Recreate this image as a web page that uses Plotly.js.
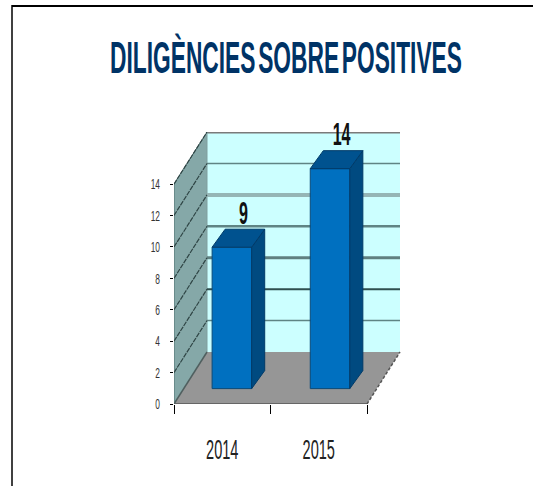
<!DOCTYPE html>
<html><head><meta charset="utf-8">
<script src="https://cdn.plot.ly/plotly-3.0.1.min.js"></script>
<style>html,body{margin:0;padding:0;background:#fff}#c{width:533px;height:486px}
.gtitle{word-spacing:-7px}</style>
</head><body><div id="c"></div>
<script>
const years = ['2014','2015'];
const values = [9,14];
const yTicks = [0,2,4,6,8,10,12,14];
const xCentres = [0.5,1.5];
const xEdges = [0,1,2];
const gridWidths = {2:1.5,4:2,6:3,8:2.5,10:4,12:1.5};
const gridColors = {2:'#5f8484',4:'#2f4f4f',6:'#5f8080',8:'#5f8484',10:'#95b5b5',12:'#5f8484'};

const wallDx = 0.342, wallDy = 3.31;     // depth of the chart box in axis units
const barDx = 0.135, barDy = 1.146;      // depth of a bar
const barShift = [0.1,0.117], barBase = 0.98, barW = 0.41;
const xMax = 2, yMax = 14;

const poly = (pts, fill, line) => ({
  type:'path', xref:'x', yref:'y', layer:'below', fillcolor:fill,
  line:{width:line?1:0,color:line||fill},
  path:'M'+pts.map(p=>p[0]+','+p[1]).join('L')+'Z'
});
const seg = (a,b,color,width,dash) => ({
  type:'line', xref:'x', yref:'y', layer:'below',
  x0:a[0],y0:a[1],x1:b[0],y1:b[1], line:{color,width,dash:dash||'solid'}
});

const shapes = [
  poly([[0,yMax],[wallDx,yMax+wallDy],[wallDx,wallDy],[0,0]],'#85a8a8'),
  poly([[wallDx,wallDy],[wallDx,yMax+wallDy],[xMax+wallDx,yMax+wallDy],[xMax+wallDx,wallDy]],'#ccffff'),
  poly([[0,0],[wallDx,wallDy],[xMax+wallDx,wallDy],[xMax,0]],'#969696'),
  seg([wallDx,yMax+wallDy],[xMax+wallDx,yMax+wallDy],'#7a7a7a',3),
  seg([0,0],[xMax,0],'#666666',2),
  seg([xMax,0],[xMax+wallDx,wallDy],'#555555',1.5,'3px,2px'),
  seg([wallDx,wallDy],[wallDx,yMax+wallDy],'#7f9f9f',1),
  seg([0,0],[0,yMax],'#4f6f6f',1),
  seg([0,0],[wallDx,wallDy],'#4f5f5f',1.5),
  seg([0,yMax],[wallDx,yMax+wallDy],'#5f7f7f',1),
  {type:'line',xref:'paper',yref:'paper',x0:-162/227,x1:359/227,y0:1+126/272,y1:1+126/272,line:{color:'#000',width:2}},
  {type:'line',xref:'paper',yref:'paper',x0:-162/227,x1:-162/227,y0:-82/272,y1:1+127/272,line:{color:'#000',width:1.5}}
];
yTicks.filter(v=>v>0&&v<14).forEach(v=>{
  shapes.push(seg([wallDx,v+wallDy],[xMax+wallDx,v+wallDy],gridColors[v],gridWidths[v]));
});
yTicks.filter(v=>v>0).forEach(v=>{
  shapes.push(seg([0,v],[wallDx,v+wallDy],'#2f4545',1.2,'5px,1px'));
});

const barX = xCentres.map((c,i)=>c+barShift[i]);
const traces = [{
  type:'bar', x:barX, y:values, base:values.map(()=>barBase), width:barW,
  marker:{color:'#0070c0',line:{color:'#0a4a78',width:1}}, showlegend:false, hoverinfo:'skip'
}];
values.forEach((v,i)=>{
  const l = barX[i]-barW/2, r = barX[i]+barW/2, top = barBase+v;
  traces.push({type:'scatter',mode:'lines',fill:'toself',fillcolor:'#004a80',
    line:{color:'#003a68',width:1},showlegend:false,hoverinfo:'skip',
    x:[r,r+barDx,r+barDx,r,r],y:[barBase,barBase+barDy,top+barDy,top,barBase]});
  traces.push({type:'scatter',mode:'lines',fill:'toself',fillcolor:'#00528f',
    line:{color:'#003a68',width:1},showlegend:false,hoverinfo:'skip',
    x:[l,l+barDx,r+barDx,r,l],y:[top,top+barDy,top+barDy,top,top]});
});
traces.push({type:'scatter',mode:'text',showlegend:false,hoverinfo:'skip',cliponaxis:false,
  x:barX.map(x=>x+0.12), y:values.map(v=>v+2.95),
  text:values.map(v=>'<b>'+v+'</b>'), textposition:'middle center',
  textfont:{family:'"Liberation Sans",sans-serif',size:31,color:'#111'}});

const font = '"Liberation Sans",sans-serif';
const layout = {
  width:533,height:486,paper_bgcolor:'#fff',plot_bgcolor:'rgba(0,0,0,0)',
  margin:{l:174,r:132,t:132,b:82},showlegend:false,
  title:{text:'<b>DILIGÈNCIES SOBRE POSITIVES</b>',xref:'paper',yref:'container',
    x:(286-174)/227,xanchor:'center',y:1-58/486,yanchor:'middle',
    font:{family:font,size:44,color:'#003366'}},
  xaxis:{range:[0,227/96.5],showgrid:false,zeroline:false,showline:false,
    tickmode:'array',tickvals:xCentres,ticktext:years,ticks:'outside',ticklen:20,tickcolor:'rgba(0,0,0,0)',
    tickfont:{family:font,size:28,color:'#222'},
    minor:{tickmode:'array',tickvals:xEdges,ticks:'outside',ticklen:9,tickcolor:'#000',tickwidth:1}},
  yaxis:{range:[0,272/15.71],showgrid:false,zeroline:false,showline:false,
    tickmode:'array',tickvals:yTicks,ticktext:yTicks.map(String),ticks:'outside',ticklen:3,tickwidth:1,tickcolor:'#000',
    ticklabelstandoff:7,tickfont:{family:font,size:15,color:'#333'}},
  shapes
};
// The reference's lettering is squeezed horizontally: narrow each text.
const squeeze = (sel, factor) => {
  document.querySelectorAll(sel).forEach(t => {
    t.setAttribute('textLength', t.getComputedTextLength()*factor);
    t.setAttribute('lengthAdjust','spacingAndGlyphs');
  });
};
Plotly.newPlot('c',traces,layout,{displayModeBar:false,staticPlot:true}).then(()=>{
  const title = document.querySelector('.gtitle');
  const box = title.getBBox();
  const cx = 286;
  title.setAttribute('transform',`translate(${cx} 0) scale(${352/box.width} 1) translate(${-(box.x+box.width/2)} 0)`);
  squeeze('.xtick text',0.52);
  squeeze('.ytick text',0.56);
  squeeze('.textpoint text',0.52);
});
</script></body></html>
